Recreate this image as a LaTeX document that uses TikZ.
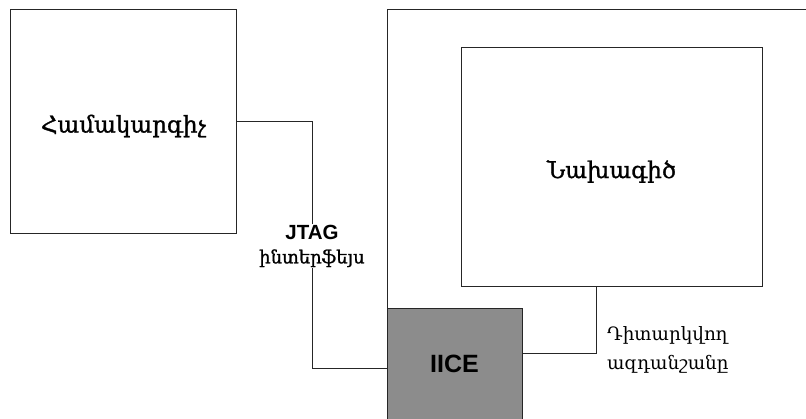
\documentclass[tikz,border=0pt]{standalone}
\usepackage{fontspec}
\newfontfamily\armfont{DejaVu Serif}
\newfontfamily\armheavy[FakeBold=1.2]{DejaVu Serif}
\newfontfamily\latfont{Liberation Sans}
\definecolor{iicegray}{RGB}{140,140,140}
\tikzset{
  box/.style={draw=black!85, line width=0.8pt, inner sep=0pt},
  wire/.style={draw=black!85, line width=0.8pt},
  boxtext/.style={font=\armheavy\fontsize{23}{27}\selectfont, text height=28pt, text depth=5pt},
}
\begin{document}
\begin{tikzpicture}[x=1pt,y=-1pt]
    \useasboundingbox (0,0) rectangle (806,418);
    % chip outline, open to the right and bottom
    \draw [wire] (387,430) -- (387,9) -- (820,9);
    \node [box, boxtext, minimum width=226, minimum height=224] (host) at (123.5,121) {Համակարգիչ};
    \node [box, boxtext, minimum width=301, minimum height=239] (design) at (611.5,166.5) {Նախագիծ};
    \node [box, fill=iicegray, minimum width=135, minimum height=112, font=\latfont\bfseries\fontsize{25}{28}\selectfont] (iice) at (454.5,364) {IICE};
    \coordinate (jtagbend) at (312,368);
    \coordinate (tapbend) at (596,353);
    \draw [wire] (host.east) -| (jtagbend) -- (jtagbend -| iice.west);
    \draw [wire] (iice.east |- tapbend) -- (tapbend) -- (tapbend |- design.south);
    \node [fill=white, inner sep=1pt, align=center] (jtag) at (312,246)
      {{\latfont\bfseries\fontsize{20.5}{24}\selectfont JTAG}\\[9pt]{\armheavy\fontsize{18}{20}\selectfont ինտերֆեյս}};
    \node [anchor=west, align=left, inner sep=0pt, font=\armfont\fontsize{18.4}{29}\selectfont] (tap) at (607,350)
      {Դիտարկվող\\ազդանշանը};
\end{tikzpicture}
\end{document}
